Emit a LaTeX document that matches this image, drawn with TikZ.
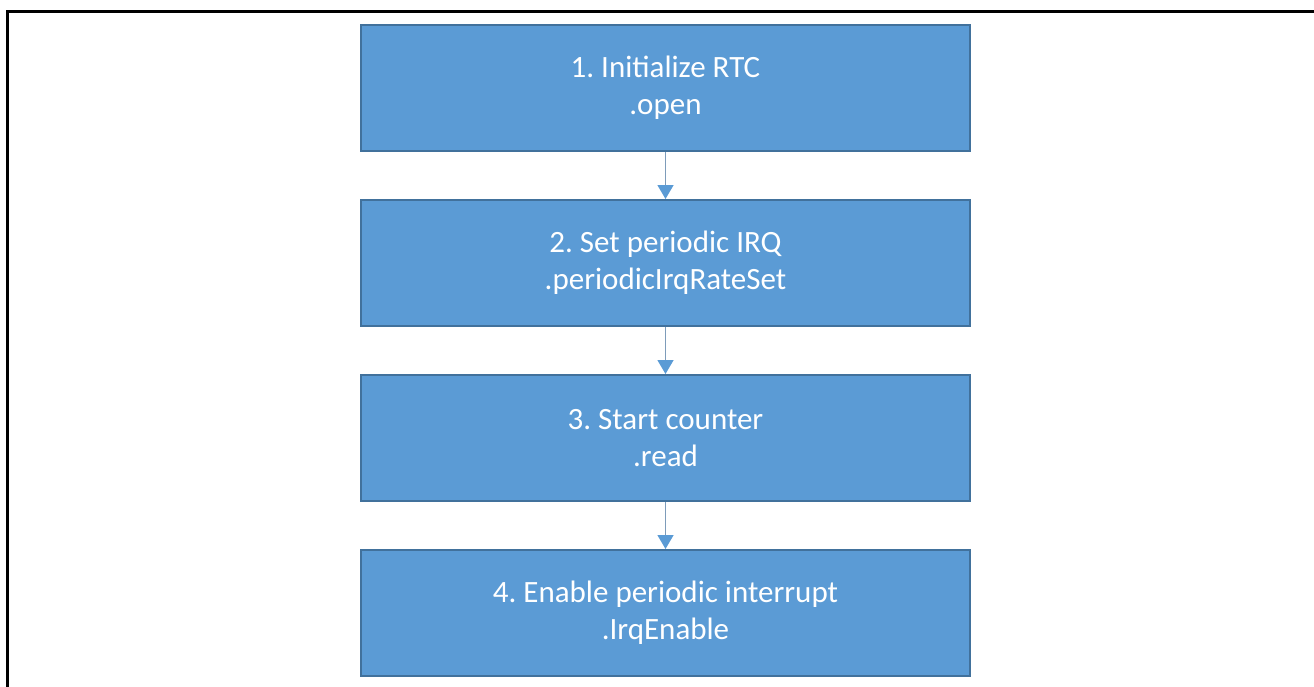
\documentclass[tikz,border=0pt]{standalone}
\usepackage{fontspec}
\setmainfont{Carlito}
\frenchspacing
\usetikzlibrary{positioning,arrows.meta}
\definecolor{stepfill}{HTML}{5B9BD5}
\definecolor{stepline}{HTML}{41719C}
\definecolor{arrowline}{HTML}{7E9CBA}
\tikzset{
x=1pt, y=-1pt,
node distance=47pt,
stepbox/.style={draw=stepline, line width=2pt, fill=stepfill, text=white,
  minimum width=609pt, minimum height=126pt, align=center,
  font=\fontsize{31}{37}\selectfont},
flow/.style={draw=arrowline, line width=1.5pt,
  -{Triangle[width=16pt,length=14pt,color=stepfill,fill=stepfill]}},
}
\begin{document}
\begin{tikzpicture}
    \useasboundingbox (0,0) rectangle (1314,686);
    \draw[line width=3pt] (7.5,720) -- (7.5,11.5) -- (1330,11.5);

    \node[stepbox] (s1) at (665.5,88) {1. Initialize RTC\\.open};
    \node[stepbox,below=of s1] (s2) {2. Set periodic IRQ\\.periodicIrqRateSet};
    \node[stepbox,below=of s2] (s3) {3. Start counter\\.read};
    \node[stepbox,below=of s3] (s4) {4. Enable periodic interrupt\\.IrqEnable};

    \draw[flow] (s1) -- (s2);
    \draw[flow] (s2) -- (s3);
    \draw[flow] (s3) -- (s4);
\end{tikzpicture}
\end{document}
